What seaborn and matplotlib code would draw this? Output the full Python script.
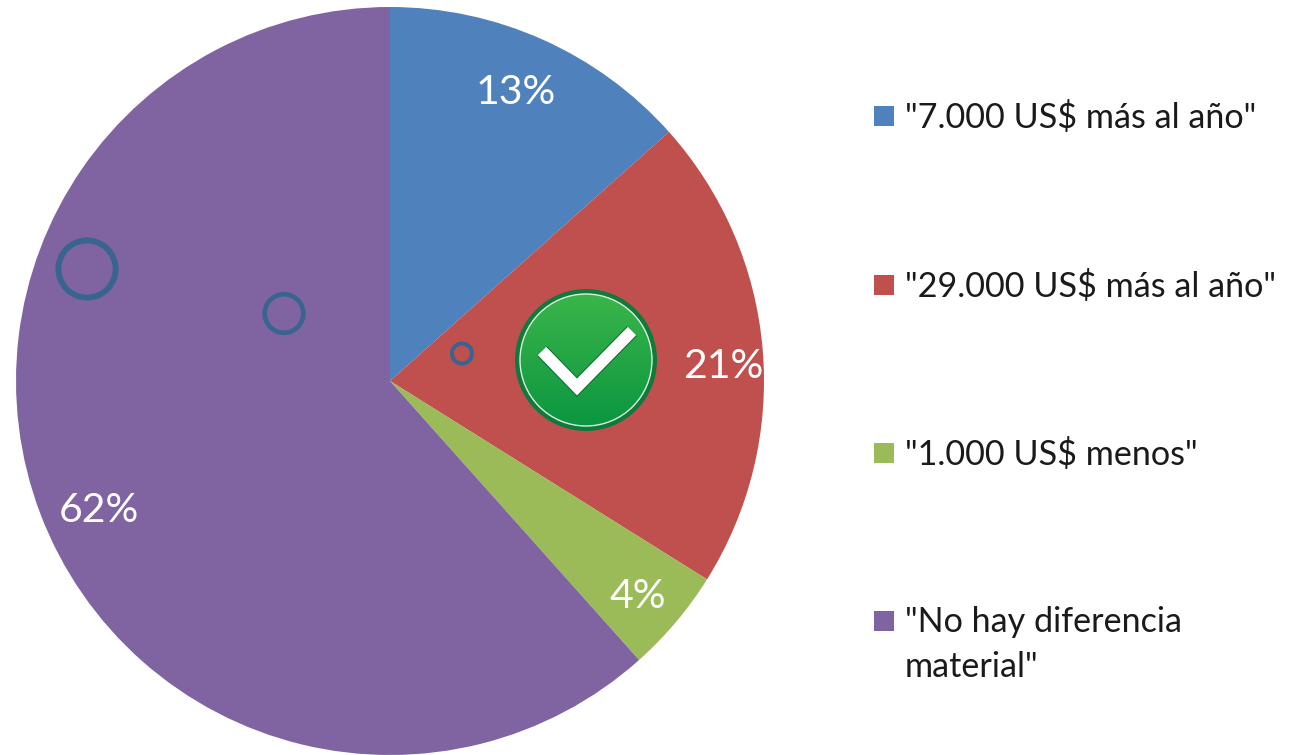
import matplotlib
matplotlib.use('Agg')
import matplotlib.pyplot as plt
import matplotlib.patches as mpatches
import matplotlib.patheffects as pe
import numpy as np
import seaborn as sns

labels = ['"7.000 US$ más al año"', '"29.000 US$ más al año"', '"1.000 US$ menos"', '"No hay diferencia\nmaterial"']
values = [13.4, 20.5, 4.5, 61.6]
pct_labels = ['13%', '21%', '4%', '62%']
colors = ['#4F81BD', '#C0504D', '#9BBB59', '#8064A2']

sns.set_theme(style='white')
plt.rcParams['font.family'] = ['Lato', 'DejaVu Sans']

W, H = 1291, 755
fig = plt.figure(figsize=(W / 100, H / 100), dpi=100)
ax = fig.add_axes([0, 0, 1, 1])

# pie drawn in pixel coords so it lines up with the overlay marks
# y axis is flipped, so start at -90 to begin at the top and go clockwise
cx, cy, r = 390, 381, 374
wedges, _ = ax.pie(values, colors=colors, startangle=-90, counterclock=True, center=(cx, cy), radius=r,
                   wedgeprops={'linewidth': 0}, frame=True)

pct_pos = [(516, 92), (723, 366), (638, 596), (99, 510)]
for t, (x, y) in zip(pct_labels, pct_pos):
    ax.text(x, y, t, color='white', fontsize=29.5, ha='center', va='center')

# hollow circles
for x, y, rad, lw in [(87, 269, 28.6, 4.3), (284, 313.5, 19.3, 3.4), (462, 353.5, 10, 2.9)]:
    ax.add_patch(mpatches.Circle((x, y), rad, fill=False, ec='#3A6490', lw=lw))

# check badge
ax.add_patch(mpatches.Circle((586, 360), 71, fc='#0E7A3B', ec='none', zorder=3))
grad = np.linspace(0, 1, 256).reshape(-1, 1)
cmap = matplotlib.colors.LinearSegmentedColormap.from_list('g', ['#3BB54A', '#0B9640'])
im = ax.imshow(grad, extent=(520, 652, 426, 294), cmap=cmap, aspect='auto', zorder=4)
im.set_clip_path(mpatches.Circle((586, 360), 66, transform=ax.transData))
ax.add_patch(mpatches.Circle((586, 360), 66, fill=False, ec='#DDF0DD', lw=1.0, zorder=5))
ax.plot([542, 577, 632], [351, 387, 331], color='white', lw=8.5, solid_joinstyle='miter', solid_capstyle='butt',
        zorder=6, path_effects=[pe.Stroke(linewidth=10, foreground='#0E6B35'), pe.Normal()])

# legend
leg_y = [116, 285, 453, 621]
for (lab, col, y) in zip(labels, colors, leg_y):
    ax.add_patch(mpatches.Rectangle((874, y - 10), 20, 20, fc=col, ec='none'))
    ax.text(905, y - 15, lab, fontsize=24.6, color='#1a1a1a', ha='left', va='top', linespacing=1.5)

ax.set_xlim(0, W)
ax.set_ylim(H, 0)
ax.set_aspect('equal')
ax.axis('off')

fig.savefig('out.png', dpi=100)
